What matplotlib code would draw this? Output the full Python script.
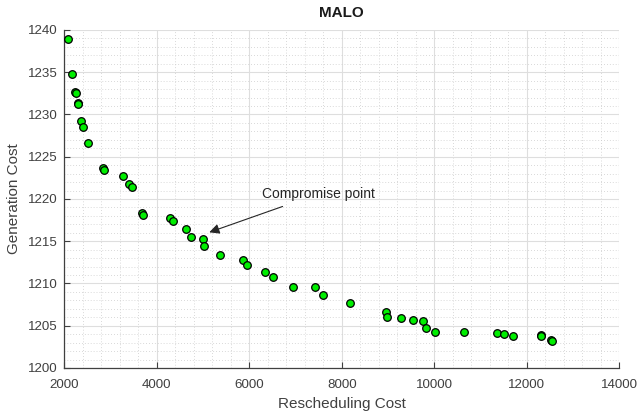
import numpy as np
import matplotlib.pyplot as plt
from matplotlib.ticker import MultipleLocator

plt.rcParams['font.family'] = ['Liberation Sans', 'DejaVu Sans']

# Pareto front: rescheduling cost vs generation cost
resched = [2086, 2160, 2240, 2246, 2297, 2303, 2355, 2404, 2512, 2830, 2852,
           3269, 3399, 3470, 3680, 3695, 4285, 4343, 4625, 4746, 4992, 5021,
           5373, 5870, 5944, 6346, 6506, 6951, 7414, 7594, 8178, 8956, 8984,
           9273, 9533, 9762, 9814, 10008, 10649, 11349, 11514, 11708, 12305,
           12314, 12530, 12550]
gen = [1238.93, 1234.83, 1232.70, 1232.58, 1231.40, 1231.28, 1229.27, 1228.52,
       1226.67, 1223.70, 1223.43, 1222.69, 1221.81, 1221.42, 1218.30, 1218.10,
       1217.75, 1217.40, 1216.45, 1215.45, 1215.32, 1214.42, 1213.41, 1212.74,
       1212.19, 1211.36, 1210.77, 1209.55, 1209.55, 1208.60, 1207.66, 1206.63,
       1206.00, 1205.88, 1205.64, 1205.60, 1204.77, 1204.26, 1204.22, 1204.11,
       1204.06, 1203.82, 1203.90, 1203.79, 1203.28, 1203.20]

arrow_head = (5135, 1216.06)
text_pos = (6270, 1220.6)

fig = plt.figure(figsize=(6.37, 4.16), dpi=100)
ax = fig.add_axes([0.101, 0.1154, 0.871, 0.8125])

ax.scatter(resched, gen, s=30, c='#00ee00', edgecolors='black', linewidths=0.9, zorder=3)

ax.set_xlim(2000, 14000)
ax.set_ylim(1200, 1240)
ax.xaxis.set_major_locator(MultipleLocator(2000))
ax.yaxis.set_major_locator(MultipleLocator(5))
ax.xaxis.set_minor_locator(MultipleLocator(400))
ax.yaxis.set_minor_locator(MultipleLocator(1))

ax.grid(which='major', color='#dedede', linewidth=0.8)
ax.grid(which='minor', color='#cccccc', linestyle=(0, (1, 2.5)), linewidth=0.6)
ax.set_axisbelow(True)

for s in ['top', 'right']:
    ax.spines[s].set_visible(False)
for s in ['left', 'bottom']:
    ax.spines[s].set_color('#404040')
    ax.spines[s].set_linewidth(0.9)

ax.tick_params(which='major', direction='in', length=4, colors='#404040',
               labelsize=9.6, labelcolor='#404040')
ax.tick_params(axis='x', which='major', pad=8)
ax.tick_params(axis='y', which='major', pad=5)
ax.tick_params(which='minor', length=0)

ax.set_xlabel('Rescheduling Cost', fontsize=11, color='#404040', labelpad=4)
ax.set_ylabel('Generation Cost', fontsize=11, color='#404040', labelpad=5)
ax.set_title('MALO', fontsize=11, fontweight='bold', color='#1a1a1a', pad=9)

ax.annotate('Compromise point', xy=arrow_head, xytext=text_pos,
            fontsize=10, color='#262626', va='center', ha='left',
            arrowprops=dict(arrowstyle='-|>', color='#262626', lw=0.8,
                            mutation_scale=15, shrinkA=6, shrinkB=0))

fig.savefig('out.png', dpi=100)
